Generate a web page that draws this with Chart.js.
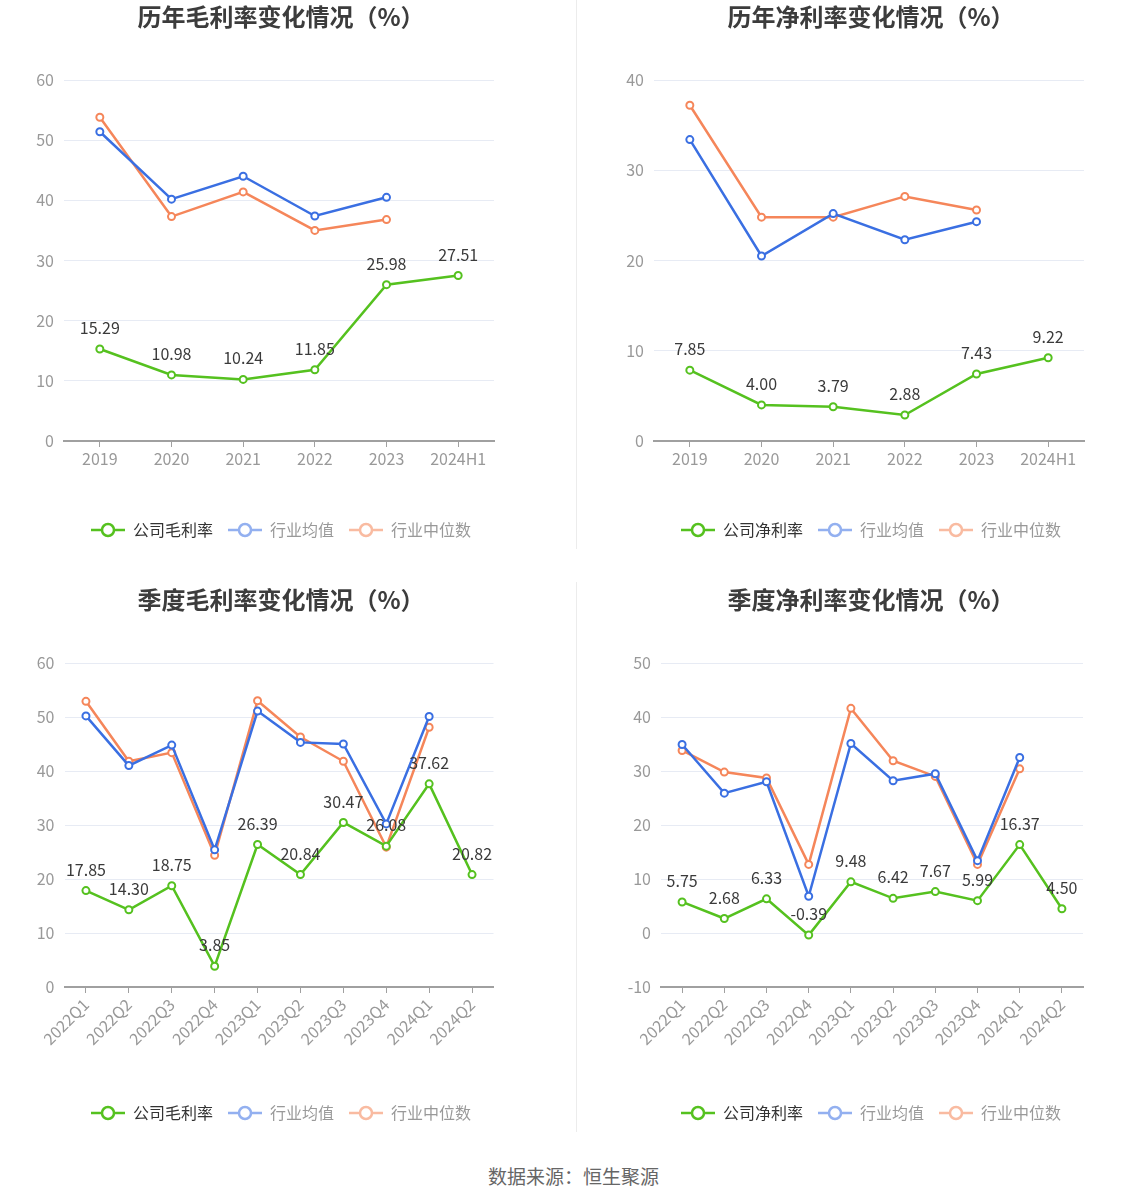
<!DOCTYPE html>
<html>
<head>
<meta charset="utf-8">
<script src="https://cdn.jsdelivr.net/npm/chart.js@4.4.1/dist/chart.umd.min.js"></script>
<style>
  html, body { margin: 0; padding: 0; background: #fff; overflow: hidden; }
  body { width: 1147px; height: 1202px; position: relative; font-family: "Noto Sans CJK SC", sans-serif; }
  .panel { position: absolute; }
  .divider { position: absolute; left: 576px; width: 1px; background: #ececec; }
  #source { position: absolute; left: 0; width: 1147px; top: 1162px; text-align: center; font-size: 19px; color: #666; }
</style>
</head>
<body>
<div class="divider" style="top:0;height:549px"></div>
<div class="divider" style="top:582px;height:550px"></div>

<canvas id="c1" class="panel" style="left:0;top:0" width="576" height="550"></canvas>
<canvas id="c2" class="panel" style="left:576px;top:0" width="571" height="550"></canvas>
<canvas id="c3" class="panel" style="left:0;top:583px" width="576" height="550"></canvas>
<canvas id="c4" class="panel" style="left:576px;top:583px" width="571" height="550"></canvas>

<div id="source">数据来源：恒生聚源</div>

<script>
// 年度数据
var yearLabels = ['2019', '2020', '2021', '2022', '2023', '2024H1'];
var yearGross = [15.29, 10.98, 10.24, 11.85, 25.98, 27.51];
var yearGrossAvg = [51.4, 40.2, 44.0, 37.4, 40.5, null];
var yearGrossMed = [53.8, 37.3, 41.4, 35.0, 36.8, null];
var yearNet = [7.85, 4.00, 3.79, 2.88, 7.43, 9.22];
var yearNetAvg = [33.4, 20.5, 25.2, 22.3, 24.3, null];
var yearNetMed = [37.2, 24.8, 24.8, 27.1, 25.6, null];

// 季度数据
var quarterLabels = ['2022Q1', '2022Q2', '2022Q3', '2022Q4', '2023Q1', '2023Q2', '2023Q3', '2023Q4', '2024Q1', '2024Q2'];
var qGross = [17.85, 14.30, 18.75, 3.85, 26.39, 20.84, 30.47, 26.08, 37.62, 20.82];
var qGrossAvg = [50.2, 41.0, 44.8, 25.4, 51.1, 45.3, 45.0, 30.2, 50.1, null];
var qGrossMed = [52.9, 41.8, 43.4, 24.4, 53.0, 46.3, 41.8, 25.9, 48.1, null];
var qNet = [5.75, 2.68, 6.33, -0.39, 9.48, 6.42, 7.67, 5.99, 16.37, 4.50];
var qNetAvg = [34.9, 25.9, 28.0, 6.8, 35.1, 28.2, 29.5, 13.4, 32.5, null];
var qNetMed = [33.8, 29.8, 28.7, 12.7, 41.6, 31.9, 29.0, 12.7, 30.4, null];

var FONT = '"Noto Sans CJK SC", sans-serif';
var GREEN = '#55c11f', BLUE = '#3a6fe2', ORANGE = '#f5865a';
var legendColors = [GREEN, '#93b0f0', '#f9bba1'];
var legendText = ['#333', '#999', '#999'];

function legendMarker(color){
  var c = document.createElement('canvas');
  c.width = 34; c.height = 16;
  var g = c.getContext('2d');
  g.strokeStyle = color;
  g.lineWidth = 2.5;
  g.beginPath(); g.moveTo(0, 8); g.lineTo(34, 8); g.stroke();
  g.beginPath(); g.arc(17, 8, 6, 0, Math.PI * 2);
  g.fillStyle = '#fff'; g.fill(); g.stroke();
  return c;
}

// 公司数据的数值标签
var pointLabels = {
  id: 'pointLabels',
  afterDatasetsDraw: function(chart){
    var ctx = chart.ctx;
    var meta = chart.getDatasetMeta(0);
    var values = chart.data.datasets[0].data;
    ctx.save();
    ctx.font = '16px ' + FONT;
    ctx.fillStyle = '#3a3a3a';
    ctx.textAlign = 'center';
    ctx.textBaseline = 'middle';
    meta.data.forEach(function(pt, i){
      ctx.fillText(values[i].toFixed(2), pt.x, pt.y - 21);
    });
    ctx.restore();
  }
};

function series(label, data, color){
  return {
    label: label,
    data: data,
    borderColor: color,
    backgroundColor: '#fff',
    borderWidth: 2.5,
    pointRadius: 3.5,
    pointBorderWidth: 2,
    pointBackgroundColor: '#fff',
    pointBorderColor: color,
    tension: 0,
    spanGaps: false
  };
}

function makeChart(id, cfg){
  var ctx = document.getElementById(id).getContext('2d');
  return new Chart(ctx, {
    type: 'line',
    data: {
      labels: cfg.labels,
      datasets: [
        series(cfg.name, cfg.company, GREEN),
        series('行业均值', cfg.avg, BLUE),
        series('行业中位数', cfg.med, ORANGE)
      ]
    },
    options: {
      responsive: false,
      animation: false,
      layout: { padding: { left: cfg.padLeft, right: cfg.padRight, top: 0, bottom: 2 } },
      plugins: {
        title: {
          display: true,
          text: cfg.title,
          color: '#3c3c3c',
          font: { family: FONT, size: 24, weight: 'bold' },
          padding: { top: 2.6, bottom: 48.6 }
        },
        legend: {
          position: 'bottom',
          labels: {
            usePointStyle: true,
            pointStyleWidth: 34,
            padding: 15,
            font: { family: FONT, size: 16 },
            generateLabels: function(chart){
              return chart.data.datasets.map(function(ds, i){
                return {
                  text: ds.label,
                  pointStyle: legendMarker(legendColors[i]),
                  fontColor: legendText[i],
                  datasetIndex: i,
                  hidden: !chart.isDatasetVisible(i),
                  lineWidth: 0
                };
              });
            }
          }
        },
        tooltip: { enabled: false }
      },
      scales: {
        x: {
          offset: true,
          grid: { drawOnChartArea: false, tickColor: '#a0a0a0', tickLength: 6, color: 'transparent' },
          border: { color: '#a0a0a0', width: 2 },
          ticks: {
            color: '#999',
            font: { family: FONT, size: 16 },
            padding: 2,
            autoSkip: false,
            minRotation: cfg.rotate,
            maxRotation: cfg.rotate
          },
          afterFit: function(s){ s.height = cfg.xHeight; }
        },
        y: {
          min: cfg.min,
          max: cfg.max,
          grid: { color: '#e7ebf4', drawTicks: false, lineWidth: 1 },
          border: { display: false },
          ticks: {
            stepSize: 10,
            color: '#999',
            padding: 10,
            font: { family: FONT, size: 16 }
          },
          afterFit: function(s){ s.width = cfg.yWidth; }
        },
        yr: {
          position: 'right',
          display: true,
          grid: { display: false },
          border: { display: false },
          ticks: { display: false },
          afterFit: function(s){ s.width = cfg.rightWidth; }
        }
      }
    },
    plugins: [pointLabels]
  });
}

makeChart('c1', {
  title: '历年毛利率变化情况（%）', name: '公司毛利率', labels: yearLabels,
  company: yearGross, avg: yearGrossAvg, med: yearGrossMed,
  min: 0, max: 60, rotate: 0, xHeight: 66,
  padLeft: 0, yWidth: 64, padRight: 14, rightWidth: 68
});
makeChart('c2', {
  title: '历年净利率变化情况（%）', name: '公司净利率', labels: yearLabels,
  company: yearNet, avg: yearNetAvg, med: yearNetMed,
  min: 0, max: 40, rotate: 0, xHeight: 66,
  padLeft: 19, yWidth: 59, padRight: 0, rightWidth: 63
});
makeChart('c3', {
  title: '季度毛利率变化情况（%）', name: '公司毛利率', labels: quarterLabels,
  company: qGross, avg: qGrossAvg, med: qGrossMed,
  min: 0, max: 60, rotate: 45, xHeight: 103,
  padLeft: 0, yWidth: 64.5, padRight: 14, rightWidth: 68.5
});
makeChart('c4', {
  title: '季度净利率变化情况（%）', name: '公司净利率', labels: quarterLabels,
  company: qNet, avg: qNetAvg, med: qNetMed,
  min: -10, max: 50, rotate: 45, xHeight: 103,
  padLeft: 19, yWidth: 66, padRight: 0, rightWidth: 64
});
</script>
</body>
</html>
